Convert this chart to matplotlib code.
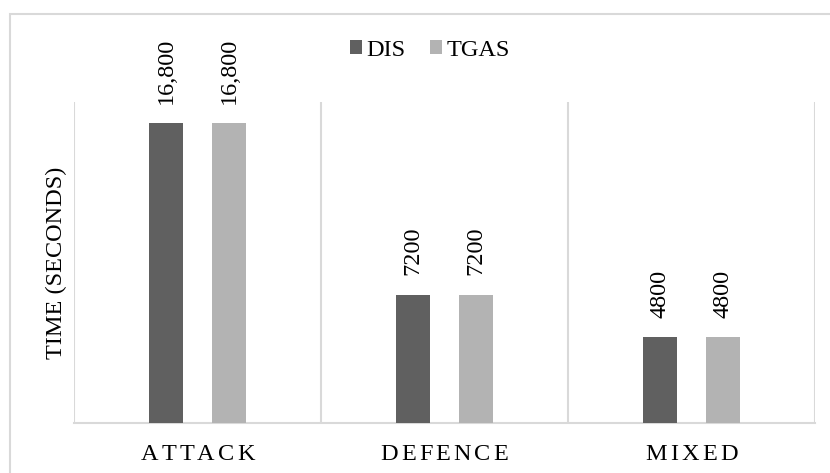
"""Time taken by DIS and TGAS for each scenario."""

import matplotlib.pyplot as plt
import numpy as np
from matplotlib.font_manager import FontProperties, findfont, get_font
from matplotlib.patches import Rectangle

categories = ["ATTACK", "DEFENCE", "MIXED"]
series = ["DIS", "TGAS"]
dis_times = [16800, 7200, 4800]
tgas_times = [16800, 7200, 4800]
value_labels = {
    "DIS": ["16,800", "7200", "4800"],
    "TGAS": ["16,800", "7200", "4800"],
}

COLORS = {"DIS": "#606060", "TGAS": "#b3b3b3"}
GRID = "#d9d9d9"
FAMILY = "Liberation Serif"
FS = 17.5
TRACK = 2.2  # extra letter spacing on category labels, points


def tracked_label(ax, xpos, word, baseline_pt=-26.5):
    """Write a category label letter by letter with extra tracking."""
    font = get_font(findfont(FontProperties(family=FAMILY)))
    font.set_size(FS, 72)
    adv = [font.load_char(ord(ch)).linearHoriAdvance / 65536 for ch in word]
    total = sum(adv) + TRACK * (len(word) - 1)
    cur = -total / 2
    for ch, a in zip(word, adv):
        ax.annotate(ch, (xpos, 0), xycoords=("data", "axes fraction"),
                    xytext=(cur, baseline_pt), textcoords="offset points",
                    ha="left", va="baseline", fontsize=FS, annotation_clip=False)
        cur += a + TRACK


def main() -> None:
    plt.rcParams["font.family"] = [FAMILY, "DejaVu Serif"]

    fig = plt.figure(figsize=(8.3, 4.73), dpi=100)
    ax = fig.add_axes([0.0892, 0.1057, 0.8927, 0.6787])

    x = np.arange(len(categories))
    width = 0.137
    offset = 0.128
    for name, vals, dx in [("DIS", dis_times, -offset), ("TGAS", tgas_times, offset)]:
        bars = ax.bar(x + dx, vals, width, color=COLORS[name], label=name, zorder=3)
        for b, lab in zip(bars, value_labels[name]):
            ax.annotate(lab, (b.get_x() + b.get_width() / 2, b.get_height()),
                        xytext=(0, 14), textcoords="offset points",
                        rotation=90, ha="center", va="bottom", fontsize=FS)

    ax.set_xlim(-0.5, len(categories) - 0.5)
    ax.set_ylim(0, 18000)
    ax.set_yticks([])
    ax.set_xticks(x)
    ax.set_xticklabels([])
    ax.tick_params(axis="x", length=0)
    for xi, cat in zip(x, categories):
        tracked_label(ax, xi, cat)

    # category separators
    ax.set_xticks(np.arange(-0.5, len(categories)), minor=True)
    ax.tick_params(axis="x", which="minor", length=0)
    ax.grid(axis="x", which="minor", color=GRID, linewidth=1.5, zorder=0)
    ax.grid(axis="x", which="major", visible=False)

    for side in ["top", "right", "left"]:
        ax.spines[side].set_visible(False)
    ax.spines["bottom"].set_color(GRID)
    ax.spines["bottom"].set_linewidth(1.5)

    ax.set_ylabel("TIME (SECONDS)", fontsize=FS, labelpad=5)

    fig.legend(loc="center", bbox_to_anchor=(430 / 830, 1 - 50 / 473), ncol=2,
               frameon=False, fontsize=FS, handlelength=0.5, handleheight=0.5,
               handletextpad=0.2, columnspacing=1.0)

    # chart area border
    fig.patches.append(Rectangle((10 / 830, -0.1), 1.2, 1 - 14 / 473 + 0.1,
                                 transform=fig.transFigure, fill=False,
                                 edgecolor=GRID, linewidth=1.5, zorder=0))

    fig.savefig("out.png", dpi=100)
    plt.close(fig)


if __name__ == "__main__":
    main()
